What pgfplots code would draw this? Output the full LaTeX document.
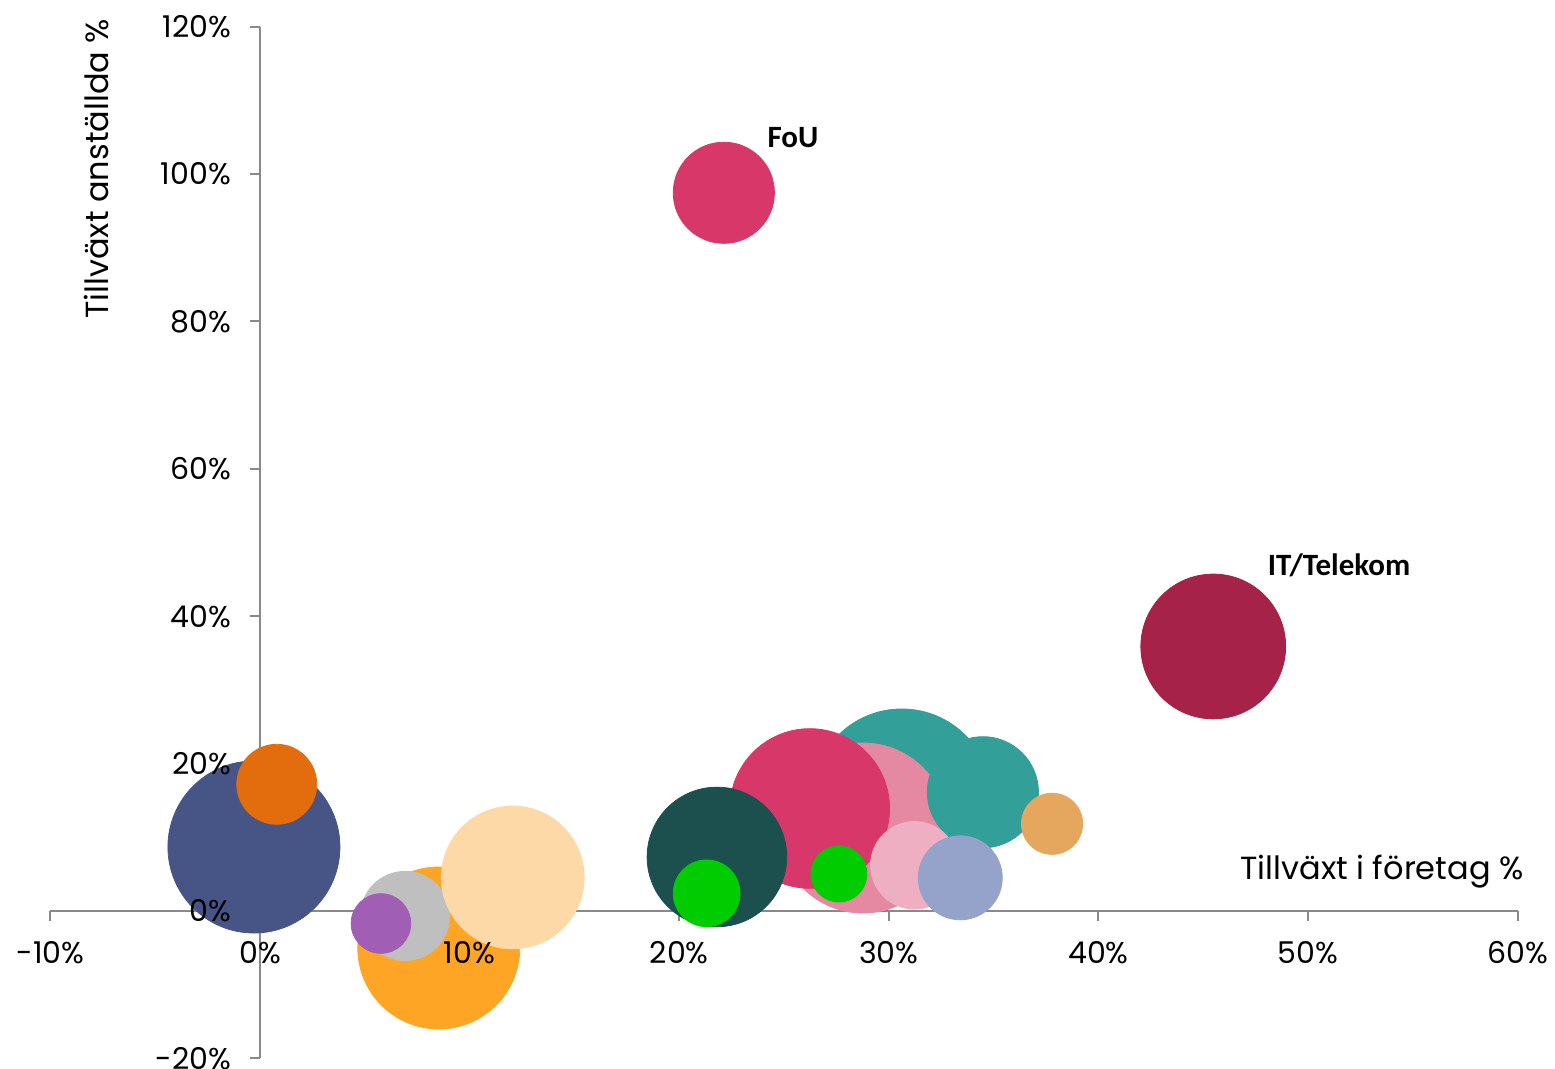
\documentclass[border=0pt]{standalone}
\usepackage{fontspec}
\setmainfont{Poppins}
\newfontfamily\lblfont{Carlito}
\usepackage{pgfplots}
\pgfplotsset{compat=1.18}

\definecolor{cFoU}{HTML}{D8376A}
\definecolor{cIT}{HTML}{A62249}
\definecolor{cNavy}{HTML}{465585}
\definecolor{cOrange}{HTML}{E36C0D}
\definecolor{cOrangeL}{HTML}{FFA526}
\definecolor{cGrey}{HTML}{BFBFBF}
\definecolor{cPurple}{HTML}{A05EB5}
\definecolor{cPeach}{HTML}{FDD9A7}
\definecolor{cDTeal}{HTML}{1B504F}
\definecolor{cGreen}{HTML}{00CC00}
\definecolor{cTeal}{HTML}{339F99}
\definecolor{cPink}{HTML}{E588A1}
\definecolor{cLPink}{HTML}{EDAFC1}
\definecolor{cLav}{HTML}{95A2C9}
\definecolor{cTan}{HTML}{E5A75D}
\definecolor{axgrey}{HTML}{898989}

\pgfplotsset{
  bubble/.style 2 args={only marks, mark=*, mark size=#2, color=#1,
    mark options={draw=none, fill=#1}},
  base/.style={
    scale only axis,
    width=733.6pt, height=515.9pt,
    xmin=-10, xmax=60, ymin=-20, ymax=120,
    axis lines=middle,
    tick align=outside,
    major tick length=5pt,
    xtick={-10,0,...,60},
    ytick={-20,0,...,120},
    hide obscured x ticks=false,
    hide obscured y ticks=false,
    clip=false,
  },
}

\begin{document}
\begin{tikzpicture}
\begin{axis}[
  base,
  axis line style={-, draw=axgrey, line width=1pt},
  tick style={draw=axgrey, line width=1pt},
  xticklabels={}, yticklabels={},
  every axis x label/.style={at={(axis cs:60,0)}, anchor=base east,
    xshift=6.5pt, yshift=15.5pt, font=\fontsize{16pt}{19pt}\selectfont},
  every axis y label/.style={at={(axis cs:-7.8,100.7)}, anchor=center,
    rotate=90, font=\fontsize{16pt}{19pt}\selectfont},
  xlabel={Tillväxt i företag \%},
  ylabel={Tillväxt anställda \%},
]
\coordinate (nw) at (rel axis cs:0,1);

% left group
\addplot[bubble={cNavy}{43pt}]    coordinates {(-0.29,8.68)};
\addplot[bubble={cOrange}{20pt}]  coordinates {(0.80,17.19)};
\addplot[bubble={cOrangeL}{40.5pt}] coordinates {(8.53,-5.02)};
\addplot[bubble={cGrey}{22.3pt}]  coordinates {(6.92,-0.68)};
\addplot[bubble={cPurple}{14.9pt}] coordinates {(5.77,-1.70)};
\addplot[bubble={cPeach}{35.7pt}] coordinates {(12.06,4.55)};

% middle cluster
\addplot[bubble={cTeal}{45pt}]    coordinates {(30.62,15.20)};
\addplot[bubble={cPink}{42.5pt}]  coordinates {(28.77,11.26)};
\addplot[bubble={cFoU}{39.9pt}]   coordinates {(26.23,13.91)};
\addplot[bubble={cDTeal}{34.9pt}] coordinates {(21.80,7.33)};
\addplot[bubble={cGreen}{16.7pt}] coordinates {(21.31,2.40)};
\addplot[bubble={cGreen}{14pt}]   coordinates {(27.62,5.02)};
\addplot[bubble={cTeal}{27.8pt}]  coordinates {(34.49,16.11)};
\addplot[bubble={cLPink}{21.9pt}] coordinates {(31.22,6.20)};
\addplot[bubble={cLav}{21pt}]     coordinates {(33.41,4.50)};
\addplot[bubble={cTan}{15.3pt}]   coordinates {(37.79,11.83)};

% labelled
\addplot[bubble={cFoU}{25.3pt}]   coordinates {(22.13,97.45)};
\addplot[bubble={cIT}{36.2pt}]    coordinates {(45.48,35.89)};

\node[font=\lblfont\bfseries\fontsize{15.5pt}{18pt}\selectfont] at (axis cs:25.43,104.9) {FoU};
\node[font=\lblfont\bfseries\fontsize{15.5pt}{18pt}\selectfont] at (axis cs:51.48,46.95) {IT/Telekom};
\end{axis}

% tick labels again, on top of the bubbles
\begin{axis}[
  base,
  axis line style={draw=none},
  tick style={draw=none},
  xticklabels={-10\%,0\%,10\%,20\%,30\%,40\%,50\%,60\%},
  yticklabels={-20\%,0\%,20\%,40\%,60\%,80\%,100\%,120\%},
  tick label style={font=\fontsize{15pt}{18pt}\selectfont, text=black},
  xticklabel style={anchor=north, yshift=-6.5pt},
  yticklabel style={anchor=east, xshift=-6pt},
]
\end{axis}
\pgfresetboundingbox
\path[use as bounding box] (nw) ++(-25.2pt,13.3pt) rectangle ++(777.5pt,-534.5pt);
\end{tikzpicture}
\end{document}
